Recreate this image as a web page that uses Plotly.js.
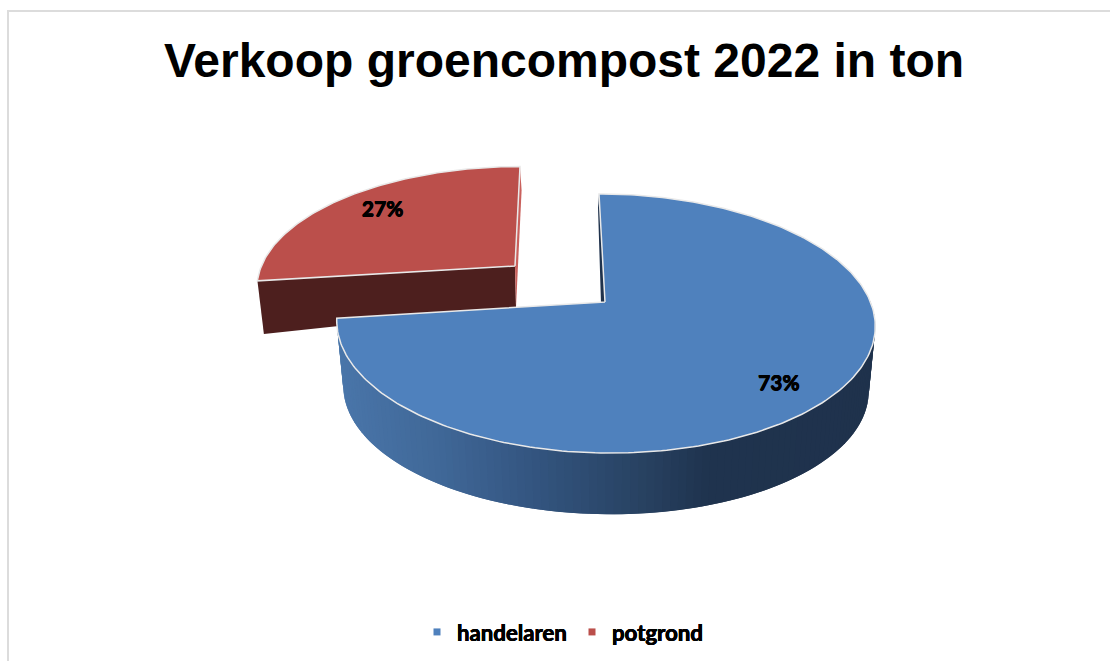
<!DOCTYPE html>
<html>
<head>
<meta charset="utf-8">
<script src="https://cdn.plot.ly/plotly-3.0.1.min.js"></script>
<style>html,body{margin:0;padding:0;background:#fff}#chart{width:1110px;height:661px}</style>
</head>
<body>
<div id="chart"></div>
<script>
// Chart data
var chartTitle = "Verkoop groencompost 2022 in ton";
var categories = ["handelaren", "potgrond"];
var shares = [73, 27];
var sliceColors = ["#4f81bd", "#bb4f4b"];
var sliceEdge = "#e9e9e9";

// Projection of each tilted slice (paper pixels)
var persp = 0.166;
var views = [
  {x0:605,y0:302,A:265.5,B:126,sx:-6,
   bx0:605,by0:368,bA:259,bB:122,bsx:-6,bTilt:0,
   backOff:[-1,14],apexOff:[-4,1]},
  {x0:515,y0:266,A:253.6,B:116,sx:5,
   bx0:516,by0:307,bA:248.7,bB:116,bsx:1,bTilt:-12.3,
   backOff:[1.6,24],apexOff:[1,41]}
];
var labelRadius = [0.8, 0.7];
var labelNudge = [[-4,10],[-11,-5]];
var heavy = "0.35px 0 0 #000, -0.35px 0 0 #000, 0 0.3px 0 #000";

function top3d(view, r, deg) {
  var t = deg*Math.PI/180, u = r*Math.sin(t), v = r*Math.cos(t), d = 1+persp*v;
  return [view.x0 + view.A*u/d + view.sx*v, view.y0 - view.B*v/d];
}
function bot3d(view, r, deg) {
  var t = deg*Math.PI/180, u = r*Math.sin(t), v = r*Math.cos(t), d = 1+persp*v;
  return [view.bx0 + view.bA*u/d + view.bsx*v, view.by0 - view.bB*v/d + view.bTilt*u];
}
function arcRange(a, b) {
  var out = [], n = Math.max(4, Math.round(Math.abs(b-a)));
  for (var i = 0; i <= n; i++) out.push(a + (b-a)*i/n);
  return out;
}
function poly(pts, fill, lineColor, lineWidth) {
  var xs = pts.map(function(p){return p[0];}), ys = pts.map(function(p){return p[1];});
  xs.push(xs[0]); ys.push(ys[0]);
  return {type:"scatter", mode:"lines", x:xs, y:ys, fill:"toself", fillcolor:fill,
    line:{color:lineColor||fill, width:lineWidth===undefined?0:lineWidth},
    hoverinfo:"skip", showlegend:false};
}
var ramp = [[340,[74,118,170]],[440,[64,104,152]],[507,[55,90,135]],[573,[47,78,117]],[640,[40,66,98]],[707,[31,51,78]],[880,[31,50,76]]];
function wallColor(x) {
  for (var i = 1; i < ramp.length; i++) {
    if (x <= ramp[i][0]) {
      var f = Math.max(0,(x-ramp[i-1][0])/(ramp[i][0]-ramp[i-1][0])), a = ramp[i-1][1], b = ramp[i][1];
      return "rgb("+[0,1,2].map(function(k){return Math.round(a[k]+(b[k]-a[k])*f);}).join(",")+")";
    }
  }
  return "rgb(31,50,76)";
}

var total = shares.reduce(function(a,b){return a+b;},0);
var sweepBlue = shares[0]/total*360;
var traces = [];

// exploded potgrond slice
(function(){
  var v = views[1], a0 = sweepBlue, a1 = 360;
  var ptop = top3d(v,0,0), pbot = bot3d(v,0,0), leftTop = top3d(v,1,a0), leftBot = bot3d(v,1,a0);
  traces.push(poly([ptop,leftTop,leftBot,pbot], "#4d1f1e"));
  var back = top3d(v,1,a1);
  traces.push(poly([back,[back[0]+v.backOff[0],back[1]+v.backOff[1]],[ptop[0]+v.apexOff[0],ptop[1]+v.apexOff[1]],ptop], "#c9605c"));
  var pts = [ptop];
  arcRange(a0,a1).forEach(function(d){pts.push(top3d(v,1,d));});
  traces.push(poly(pts, sliceColors[1], sliceEdge, 1.5));
})();

// handelaren slice: side wall painted from the right, each band overlapping the next
(function(){
  var v = views[0], a1 = sweepBlue;
  var start = 88, step = 1.5;
  for (var d = start; d < a1; d += step) {
    var e = Math.min(d+step*2,a1), p1 = top3d(v,1,d), p2 = top3d(v,1,e), q1 = bot3d(v,1,d), q2 = bot3d(v,1,e);
    traces.push(poly([p1,p2,q2,q1], wallColor(bot3d(v,1,d+step/2)[0])));
  }
  var ap = top3d(v,0,0), back = top3d(v,1,0);
  traces.push(poly([back,[back[0]+v.backOff[0],back[1]+v.backOff[1]],[ap[0]+v.apexOff[0],ap[1]+v.apexOff[1]],ap], "#1f324c"));
  var pts = [ap];
  arcRange(0,a1).forEach(function(d){pts.push(top3d(v,1,d));});
  traces.push(poly(pts, sliceColors[0], sliceEdge, 1.5));
})();

// data labels
var mids = [sweepBlue/2, sweepBlue + (360-sweepBlue)/2];
traces.push({type:"scatter", mode:"text", hoverinfo:"skip", showlegend:false,
  x: mids.map(function(m,i){return top3d(views[i],labelRadius[i],m)[0]+labelNudge[i][0];}),
  y: mids.map(function(m,i){return top3d(views[i],labelRadius[i],m)[1]+labelNudge[i][1];}),
  text: shares.map(function(s){return Math.round(s/total*100)+"%";}),
  textposition:"middle center",
  textfont:{family:"Lato, sans-serif", size:21, color:"#000", weight:700, shadow:heavy}
});

// legend entries
categories.forEach(function(c,i){
  traces.push({type:"scatter", mode:"markers", name:c, x:[null], y:[null],
    marker:{symbol:"square", size:7, color:sliceColors[i]}, hoverinfo:"skip"});
});

var layout = {
  width:1110, height:661, paper_bgcolor:"#fff", plot_bgcolor:"#fff",
  margin:{l:0,r:0,t:0,b:0},
  xaxis:{range:[0,1110], visible:false, fixedrange:true},
  yaxis:{range:[661,0], visible:false, fixedrange:true},
  title:{text:"<b>"+chartTitle+"</b>", x:564/1110, xanchor:"center", y:1-60/661, yanchor:"middle",
    font:{family:"'Liberation Sans', Arial, sans-serif", size:48, color:"#000"}},
  legend:{orientation:"h", x:417/1110, xanchor:"left", y:1-632/661, yanchor:"middle",
    bgcolor:"rgba(0,0,0,0)", entrywidth:110, entrywidthmode:"pixels", itemwidth:30,
    font:{family:"Lato, sans-serif", size:22.2, color:"#000", weight:700, shadow:heavy}},
  shapes:[
    {type:"line", xref:"x", yref:"y", x0:7, x1:1110, y0:11, y1:11, line:{color:"#dcdcdc", width:2}},
    {type:"line", xref:"x", yref:"y", x0:8, x1:8, y0:10, y1:661, line:{color:"#dcdcdc", width:2}}
  ],
  showlegend:true
};
Plotly.newPlot("chart", traces, layout, {displayModeBar:false, staticPlot:true});
</script>
</body>
</html>
